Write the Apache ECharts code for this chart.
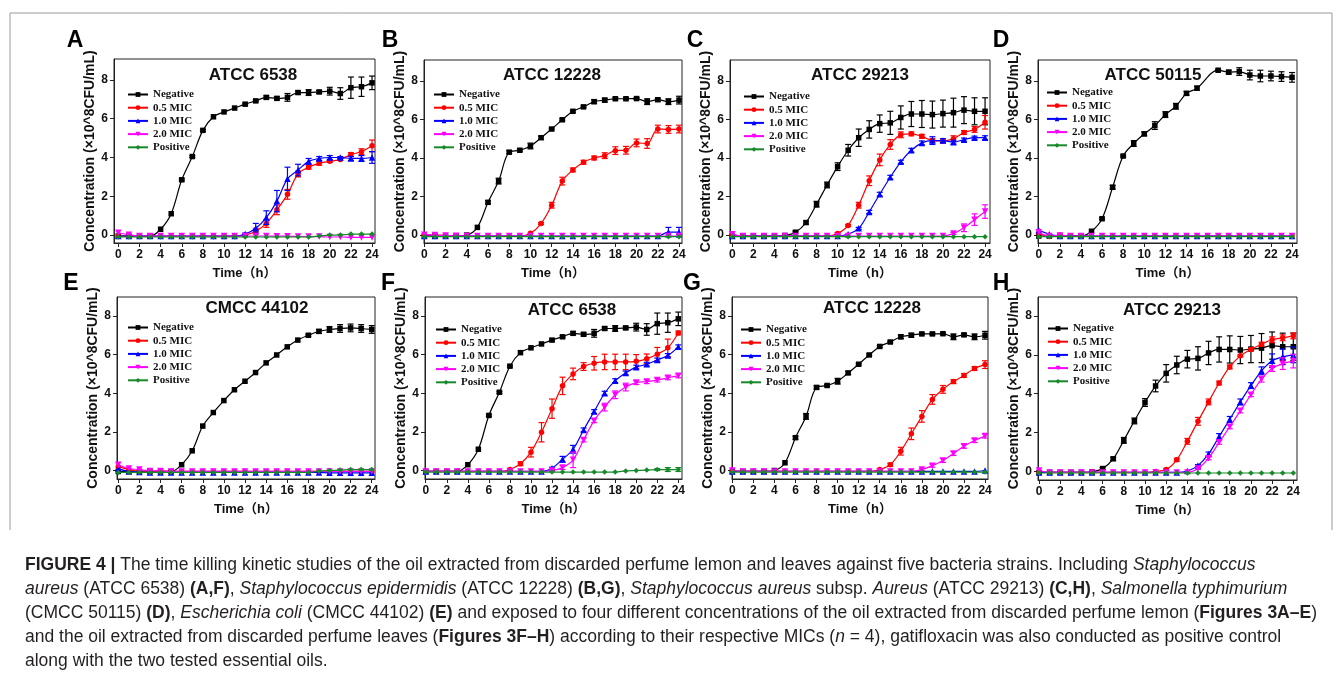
<!DOCTYPE html>
<html>
<head>
<meta charset="utf-8">
<title>Figure 4 - time killing kinetics</title>
<script src="https://cdn.jsdelivr.net/npm/echarts@6/dist/echarts.min.js"></script>
<style>
  html, body { margin: 0; padding: 0; background: #fff; }
  #chart { width: 1342px; height: 681px; }
</style>
</head>
<body>
<div id="chart"></div>
<script>
// ---- data (x10^8 CFU/mL) ----
const hours = [0,1,2,3,4,5,6,7,8,9,10,11,12,13,14,15,16,17,18,19,20,21,22,23,24];
const seriesNames = ['Negative', '0.5 MIC', '1.0 MIC', '2.0 MIC', 'Positive'];
const xTicks = [0,2,4,6,8,10,12,14,16,18,20,22,24];
const yTicks = [0,2,4,6,8];

// A - ATCC 6538 (lemon oil)
const negA = [-0.05,-0.05,-0.05,-0.05,0.3,1.1,2.85,4.05,5.4,6.1,6.35,6.55,6.75,6.92,7.1,7.05,7.1,7.35,7.35,7.38,7.42,7.3,7.6,7.65,7.85];
const negAErr = [0,0,0,0,0,0,0.05,0.05,0.05,0,0,0,0.05,0.05,0.08,0.08,0.2,0.08,0.15,0.08,0.2,0.3,0.55,0.5,0.35];
const m05A = [-0.05,-0.05,-0.05,-0.05,-0.05,-0.05,-0.05,-0.05,-0.05,-0.05,-0.05,-0.05,0,0.2,0.6,1.3,2.1,3.15,3.5,3.7,3.8,3.9,4.15,4.3,4.6];
const m05AErr = [0,0,0,0,0,0,0,0,0,0,0,0,0,0.15,0.2,0.25,0.25,0.15,0.1,0.1,0.05,0.05,0.1,0.15,0.3];
const m10A = [-0.05,-0.05,-0.05,-0.05,-0.05,-0.05,-0.05,-0.05,-0.05,-0.05,-0.05,-0.05,0.05,0.35,0.9,1.75,2.9,3.35,3.8,3.95,4.0,4.0,3.95,3.95,4.0];
const m10AErr = [0,0,0,0,0,0,0,0,0,0,0,0,0.05,0.25,0.35,0.55,0.6,0.3,0.15,0.1,0.1,0.05,0.1,0.15,0.3];
const m20A = [0.12,0.02,-0.05,-0.05,-0.05,-0.05,-0.05,-0.05,-0.05,-0.05,-0.05,-0.05,-0.05,-0.05,-0.05,-0.06,-0.06,-0.07,-0.08,-0.08,-0.1,-0.1,-0.12,-0.12,-0.12];
const posA = [-0.1,-0.1,-0.1,-0.1,-0.1,-0.1,-0.1,-0.1,-0.1,-0.1,-0.1,-0.1,-0.1,-0.1,-0.1,-0.1,-0.1,-0.1,-0.1,-0.05,0,0,0.05,0.05,0.05];

// B - ATCC 12228 (lemon oil)
const negB = [-0.05,-0.05,-0.05,-0.05,0,0.4,1.7,2.8,4.3,4.4,4.62,5.05,5.5,5.98,6.42,6.65,6.92,7.0,7.07,7.07,7.08,6.92,7.02,6.92,7.0];
const negBErr = [0,0,0,0,0,0,0.08,0.15,0.08,0.05,0.15,0.08,0.05,0.05,0.05,0.05,0.1,0.1,0.05,0.05,0.05,0.15,0.08,0.15,0.2];
const m05B = [0,0,-0.02,-0.05,-0.05,-0.05,-0.05,-0.05,-0.05,-0.05,0.1,0.6,1.55,2.8,3.38,3.78,4.0,4.12,4.38,4.4,4.78,4.75,5.5,5.48,5.5];
const m05BErr = [0,0,0,0,0,0,0,0,0,0,0,0.05,0.15,0.2,0.1,0.1,0.1,0.15,0.2,0.2,0.2,0.25,0.2,0.2,0.2];
const m10B = [-0.05,-0.05,-0.05,-0.05,-0.05,-0.05,-0.05,-0.05,-0.05,-0.05,-0.05,-0.05,-0.05,-0.05,-0.05,-0.05,-0.05,-0.05,-0.05,-0.05,-0.05,-0.05,-0.05,0.15,0.15];
const m10BErr = [0,0,0,0,0,0,0,0,0,0,0,0,0,0,0,0,0,0,0,0,0,0,0,0.25,0.25];
const m20B = [0.02,0,-0.02,-0.04,-0.05,-0.05,-0.05,-0.05,-0.05,-0.05,-0.05,-0.05,-0.05,-0.05,-0.05,-0.05,-0.05,-0.05,-0.05,-0.05,-0.05,-0.05,-0.05,-0.05,-0.05];
const posB = [-0.08,-0.08,-0.08,-0.08,-0.08,-0.08,-0.08,-0.08,-0.08,-0.08,-0.08,-0.08,-0.08,-0.08,-0.08,-0.08,-0.08,-0.08,-0.08,-0.08,-0.08,-0.08,-0.08,-0.08,-0.08];

// C - ATCC 29213 (lemon oil)
const negC = [-0.05,-0.05,-0.05,-0.05,-0.05,-0.02,0.15,0.65,1.6,2.6,3.55,4.4,5.05,5.48,5.78,5.82,6.1,6.28,6.28,6.25,6.3,6.35,6.48,6.42,6.42];
const negCErr = [0,0,0,0,0,0,0.05,0.08,0.15,0.15,0.2,0.3,0.45,0.45,0.45,0.6,0.6,0.65,0.7,0.7,0.7,0.75,0.7,0.7,0.7];
const m05C = [-0.05,-0.05,-0.05,-0.05,-0.05,-0.05,-0.05,-0.05,-0.05,-0.05,0.08,0.5,1.55,2.82,3.9,4.7,5.2,5.25,5.12,4.9,4.88,5.0,5.32,5.48,5.85];
const m05CErr = [0,0,0,0,0,0,0,0,0,0,0.05,0.05,0.15,0.25,0.3,0.25,0.15,0.1,0.1,0.1,0.1,0.15,0.1,0.15,0.35];
const m10C = [-0.05,-0.05,-0.05,-0.05,-0.05,-0.05,-0.05,-0.05,-0.05,-0.05,-0.05,0.05,0.35,1.2,2.12,3.0,3.8,4.4,4.78,4.9,4.9,4.82,4.95,5.05,5.05];
const m10CErr = [0,0,0,0,0,0,0,0,0,0,0,0,0.05,0.08,0.1,0.1,0.08,0.1,0.1,0.2,0.1,0.1,0.08,0.08,0.1];
const m20C = [0.05,-0.05,-0.05,-0.05,-0.05,-0.05,-0.05,-0.05,-0.05,-0.05,-0.05,-0.05,-0.05,-0.05,-0.05,-0.05,-0.05,-0.05,-0.05,-0.05,-0.05,0.08,0.38,0.8,1.22];
const m20CErr = [0,0,0,0,0,0,0,0,0,0,0,0,0,0,0,0,0,0,0,0,0,0.05,0.2,0.3,0.35];
const posC = [-0.08,-0.08,-0.08,-0.08,-0.08,-0.08,-0.08,-0.08,-0.08,-0.08,-0.08,-0.08,-0.08,-0.08,-0.08,-0.08,-0.08,-0.08,-0.08,-0.08,-0.08,-0.08,-0.08,-0.08,-0.08];

// D - ATCC 50115 (lemon oil), no point at 16 h
const negD = [-0.05,-0.05,-0.05,-0.05,-0.05,0.2,0.85,2.48,4.1,4.75,5.25,5.68,6.25,6.68,7.35,7.62,null,8.55,8.45,8.48,8.3,8.25,8.25,8.22,8.18];
const negDErr = [0,0,0,0,0,0,0.05,0.1,0.05,0.15,0.1,0.2,0.15,0.15,0.1,0.1,0,0.05,0.1,0.2,0.25,0.3,0.25,0.25,0.25];
const m05D = [0.1,-0.05,0,-0.05,-0.05,-0.05,-0.05,-0.05,-0.05,-0.05,-0.05,-0.05,-0.05,-0.05,-0.05,-0.05,-0.05,-0.05,-0.05,-0.05,-0.05,-0.05,-0.05,-0.05,-0.05];
const m10D = [0.25,0.05,-0.05,-0.05,-0.05,-0.05,-0.05,-0.05,-0.05,-0.05,-0.05,-0.05,-0.05,-0.05,-0.05,-0.05,-0.05,-0.05,-0.05,-0.05,-0.05,-0.05,-0.05,-0.05,-0.05];
const m20D = [0.15,-0.05,-0.02,-0.05,-0.05,-0.05,-0.05,-0.05,-0.05,-0.05,-0.05,-0.05,-0.05,-0.05,-0.05,-0.05,-0.05,-0.05,-0.05,-0.05,-0.05,-0.05,-0.05,-0.05,-0.05];
const posD = [-0.08,-0.08,-0.08,-0.08,-0.08,-0.08,-0.08,-0.08,-0.08,-0.08,-0.08,-0.08,-0.08,-0.08,-0.08,-0.08,-0.08,-0.08,-0.08,-0.08,-0.08,-0.08,-0.08,-0.08,-0.08];

// E - CMCC 44102 (lemon oil)
const negE = [-0.05,-0.05,-0.05,-0.05,-0.05,-0.05,0.3,1.02,2.3,3.0,3.62,4.18,4.62,5.07,5.57,5.98,6.4,6.75,7.0,7.2,7.3,7.35,7.38,7.35,7.3];
const negEErr = [0,0,0,0,0,0,0,0,0,0,0,0,0,0,0,0,0,0,0.05,0.1,0.15,0.2,0.2,0.2,0.2];
const m05E = [0.2,0.05,-0.05,-0.05,-0.05,-0.05,-0.05,-0.05,-0.05,-0.05,-0.05,-0.05,-0.05,-0.05,-0.05,-0.05,-0.05,-0.05,-0.05,-0.05,-0.05,-0.05,-0.05,-0.05,-0.05];
const m10E = [0.1,-0.05,-0.08,-0.1,-0.1,-0.1,-0.1,-0.1,-0.1,-0.1,-0.1,-0.1,-0.1,-0.1,-0.1,-0.1,-0.1,-0.1,-0.1,-0.1,-0.12,-0.12,-0.12,-0.12,-0.12];
const m20E = [0.3,0.1,0.05,-0.02,-0.02,-0.05,-0.05,-0.05,-0.05,-0.05,-0.05,-0.05,-0.05,-0.05,-0.05,-0.05,-0.05,-0.05,-0.05,-0.05,-0.05,-0.05,-0.05,-0.05,-0.05];
const posE = [-0.1,-0.1,-0.1,-0.1,-0.1,-0.1,-0.1,-0.1,-0.1,-0.1,-0.1,-0.1,-0.1,-0.1,-0.1,-0.1,-0.1,-0.1,-0.1,-0.03,0,0.02,0.05,0.05,0.05];

// F - ATCC 6538 (leaf oil); same negative control as A
const negF = negA;
const negFErr = negAErr;
const m05F = [-0.05,-0.05,-0.05,-0.05,-0.05,-0.05,-0.05,-0.05,0.05,0.35,0.95,1.98,3.2,4.38,5.0,5.38,5.55,5.62,5.62,5.62,5.65,5.78,6.02,6.35,7.12];
const m05FErr = [0,0,0,0,0,0,0,0,0.05,0.1,0.25,0.5,0.5,0.45,0.3,0.2,0.35,0.4,0.4,0.4,0.35,0.25,0.35,0.45,0.1];
const m10F = [-0.05,-0.05,-0.05,-0.05,-0.05,-0.05,-0.05,-0.05,-0.05,-0.05,-0.05,-0.05,0.12,0.58,1.1,2.1,3.05,4.0,4.65,5.05,5.35,5.5,5.72,5.95,6.4];
const m10FErr = [0,0,0,0,0,0,0,0,0,0,0,0,0.05,0.15,0.2,0.1,0.1,0.1,0.1,0.1,0.1,0.1,0.1,0.1,0.1];
const m20F = [-0.05,-0.05,-0.05,-0.05,-0.05,-0.05,-0.05,-0.05,-0.05,-0.05,-0.05,-0.05,0,0.15,0.55,1.58,2.58,3.28,3.92,4.32,4.55,4.6,4.68,4.8,4.9];
const m20FErr = [0,0,0,0,0,0,0,0,0,0,0,0,0.05,0.1,0.4,0.1,0.1,0.2,0.2,0.2,0.1,0.1,0.1,0.1,0.1];
const posF = [-0.08,-0.08,-0.08,-0.08,-0.08,-0.08,-0.08,-0.08,-0.08,-0.08,-0.08,-0.08,-0.08,-0.08,-0.08,-0.08,-0.08,-0.08,-0.08,-0.02,0,0.02,0.05,0.05,0.05];
const posFErr = [0,0,0,0,0,0,0,0,0,0,0,0,0,0,0,0,0,0,0,0,0,0,0.05,0.1,0.1];

// G - ATCC 12228 (leaf oil); same negative control as B
const negG = negB;
const negGErr = negBErr;
const m05G = [-0.05,-0.05,-0.05,-0.05,-0.05,-0.05,-0.05,-0.05,-0.05,-0.05,-0.05,-0.05,-0.05,-0.05,0.05,0.3,1.0,1.9,2.8,3.68,4.2,4.6,4.92,5.28,5.48];
const m05GErr = [0,0,0,0,0,0,0,0,0,0,0,0,0,0,0.05,0.08,0.2,0.3,0.3,0.25,0.2,0.1,0.1,0.1,0.2];
const m10G = [-0.05,-0.05,-0.05,-0.05,-0.05,-0.05,-0.05,-0.05,-0.05,-0.05,-0.05,-0.05,-0.05,-0.05,-0.05,-0.05,-0.05,-0.05,-0.05,-0.05,-0.05,-0.05,-0.05,-0.05,0];
const m20G = [0,-0.05,-0.05,-0.05,-0.05,-0.05,-0.05,-0.05,-0.05,-0.05,-0.05,-0.05,-0.05,-0.05,-0.05,-0.05,-0.05,-0.05,0.05,0.25,0.52,0.88,1.25,1.55,1.78];
const m20GErr = [0,0,0,0,0,0,0,0,0,0,0,0,0,0,0,0,0,0,0.05,0.08,0.1,0.1,0.1,0.1,0.1];
const posG = [-0.08,-0.08,-0.08,-0.08,-0.08,-0.08,-0.08,-0.08,-0.08,-0.08,-0.08,-0.08,-0.08,-0.08,-0.08,-0.08,-0.08,-0.08,-0.08,-0.08,-0.08,-0.08,-0.08,-0.08,-0.08];

// H - ATCC 29213 (leaf oil); same negative control as C
const negH = negC;
const negHErr = negCErr;
const m05H = [-0.05,-0.05,-0.05,-0.05,-0.05,-0.05,-0.05,-0.05,-0.05,-0.05,-0.05,0,0.1,0.6,1.55,2.58,3.58,4.55,5.38,5.95,6.28,6.55,6.78,6.88,6.98];
const m05HErr = [0,0,0,0,0,0,0,0,0,0,0,0,0.05,0.08,0.15,0.2,0.15,0.1,0.1,0.05,0.05,0.1,0.15,0.15,0.15];
const m10H = [-0.05,-0.05,-0.05,-0.05,-0.05,-0.05,-0.05,-0.05,-0.05,-0.05,-0.05,-0.05,-0.05,-0.05,0.02,0.3,0.9,1.8,2.68,3.58,4.42,5.18,5.7,5.9,6.0];
const m10HErr = [0,0,0,0,0,0,0,0,0,0,0,0,0,0,0,0.05,0.1,0.15,0.15,0.15,0.15,0.2,0.35,0.4,0.4];
const m20H = [0.05,-0.05,-0.05,-0.05,-0.05,-0.05,-0.05,-0.05,-0.05,-0.05,-0.05,-0.05,-0.05,-0.05,-0.05,0.15,0.68,1.5,2.3,3.12,3.95,4.75,5.3,5.55,5.68];
const m20HErr = [0,0,0,0,0,0,0,0,0,0,0,0,0,0,0,0.05,0.08,0.1,0.1,0.1,0.1,0.15,0.15,0.3,0.35];
const posH = [-0.08,-0.08,-0.08,-0.08,-0.08,-0.08,-0.08,-0.08,-0.08,-0.08,-0.08,-0.08,-0.08,-0.08,-0.08,-0.08,-0.08,-0.08,-0.08,-0.08,-0.08,-0.08,-0.08,-0.08,-0.08];

// ---- styling ----
const colors = ['#000000', '#ff0000', '#0000ff', '#ff00ff', '#168a2a'];
const symbols = ['rect', 'circle', 'triangle', 'triangle', 'diamond'];
const rotates = [0, 0, 0, 180, 0];
const sans = '"Liberation Sans", Arial, "Noto Sans CJK SC", sans-serif';
const serif = '"Liberation Serif", "Times New Roman", serif';

// layout per panel: grid box [left, top, width, height], x range, y range
const panels = [
  { letter: 'A', title: 'ATCC 6538',  box: [114, 59, 261, 184],  xr: [-0.41, 24.28], yr: [-0.41, 9.08], lg: [127, 89],  lt: [75, 41],   tt: [253, 75],
    lines: [[negA, negAErr], [m05A, m05AErr], [m10A, m10AErr], [m20A, null], [posA, null]] },
  { letter: 'B', title: 'ATCC 12228', box: [424, 60, 258, 183],  xr: [-0.03, 24.28], yr: [-0.41, 9.08], lg: [433, 89],  lt: [390, 41],  tt: [552, 75],
    lines: [[negB, negBErr], [m05B, m05BErr], [m10B, m10BErr], [m20B, null], [posB, null]] },
  { letter: 'C', title: 'ATCC 29213', box: [730, 60, 260, 183],  xr: [-0.22, 24.47], yr: [-0.41, 9.08], lg: [743, 91],  lt: [695, 41],  tt: [860, 75],
    lines: [[negC, negCErr], [m05C, m05CErr], [m10C, m10CErr], [m20C, m20CErr], [posC, null]] },
  { letter: 'D', title: 'ATCC 50115', box: [1038, 60, 259, 183], xr: [-0.07, 24.47], yr: [-0.41, 9.08], lg: [1046, 87], lt: [1001, 41], tt: [1153, 75],
    lines: [[negD, negDErr], [m05D, null], [m10D, null], [m20D, null], [posD, null]] },
  { letter: 'E', title: 'CMCC 44102', box: [117, 297, 258, 182], xr: [-0.12, 24.31], yr: [-0.44, 8.98], lg: [127, 322], lt: [71, 284],  tt: [257, 308],
    lines: [[negE, negEErr], [m05E, null], [m10E, null], [m20E, null], [posE, null]] },
  { letter: 'F', title: 'ATCC 6538',  box: [425, 297, 257, 182], xr: [-0.07, 24.35], yr: [-0.44, 8.98], lg: [435, 324], lt: [388, 284], tt: [572, 310],
    lines: [[negF, negFErr], [m05F, m05FErr], [m10F, m10FErr], [m20F, m20FErr], [posF, posFErr]] },
  { letter: 'G', title: 'ATCC 12228', box: [732, 297, 256, 182], xr: [-0.03, 24.28], yr: [-0.44, 8.98], lg: [740, 324], lt: [692, 284], tt: [872, 308],
    lines: [[negG, negGErr], [m05G, m05GErr], [m10G, null], [m20G, m20GErr], [posG, null]] },
  { letter: 'H', title: 'ATCC 29213', box: [1038, 297, 259, 183], xr: [-0.1, 24.35], yr: [-0.44, 8.98], lg: [1047, 323], lt: [1001, 284], tt: [1172, 310],
    lines: [[negH, negHErr], [m05H, m05HErr], [m10H, m10HErr], [m20H, m20HErr], [posH, null]] }
];

// error bars drawn as a custom series
function renderErr(params, api) {
  const y = api.value(1);
  const e = api.value(2);
  if (!(e > 0) || isNaN(y)) return null;
  const x = api.value(0);
  const hi = api.coord([x, y + e]);
  const lo = api.coord([x, y - e]);
  const c = api.visual('color');
  const w = 3;
  const st = { stroke: c, lineWidth: 1.2 };
  return {
    type: 'group',
    children: [
      { type: 'line', shape: { x1: hi[0], y1: hi[1], x2: lo[0], y2: lo[1] }, style: st },
      { type: 'line', shape: { x1: hi[0] - w, y1: hi[1], x2: hi[0] + w, y2: hi[1] }, style: st },
      { type: 'line', shape: { x1: lo[0] - w, y1: lo[1], x2: lo[0] + w, y2: lo[1] }, style: st }
    ]
  };
}

const grids = [], xAxes = [], yAxes = [], legends = [], series = [], graphics = [];

panels.forEach((p, i) => {
  grids.push({
    left: p.box[0], top: p.box[1], width: p.box[2], height: p.box[3],
    show: true, borderColor: '#222', borderWidth: 1, backgroundColor: 'transparent'
  });
  xAxes.push({
    type: 'value', gridIndex: i, min: p.xr[0], max: p.xr[1],
    name: 'Time（h）', nameLocation: 'middle', nameGap: 24,
    nameTextStyle: { fontFamily: sans, fontWeight: 'bold', fontSize: 13, color: '#111' },
    axisLine: { onZero: false, lineStyle: { color: '#222', width: 1 } },
    axisTick: { length: 4, lineStyle: { color: '#222' }, customValues: xTicks },
    axisLabel: { fontFamily: sans, fontWeight: 'bold', fontSize: 12, color: '#111', margin: 6, customValues: xTicks },
    splitLine: { show: false }
  });
  yAxes.push({
    type: 'value', gridIndex: i, min: p.yr[0], max: p.yr[1],
    name: 'Concentration (×10^8CFU/mL)', nameLocation: 'middle', nameGap: 12,
    nameTextStyle: { fontFamily: sans, fontWeight: 'bold', fontSize: 14, color: '#111' },
    axisLine: { onZero: false, lineStyle: { color: '#222', width: 1 } },
    axisTick: { length: 4, lineStyle: { color: '#222' }, customValues: yTicks },
    axisLabel: { fontFamily: sans, fontWeight: 'bold', fontSize: 12, color: '#111', margin: 6, customValues: yTicks },
    splitLine: { show: false }
  });
  legends.push({
    left: p.lg[0], top: p.lg[1], orient: 'vertical', padding: 0,
    itemWidth: 20, itemHeight: 6, itemGap: 2.2, selectedMode: false,
    data: seriesNames,
    textStyle: { fontFamily: serif, fontWeight: 'bold', fontSize: 11, lineHeight: 11, color: '#111' }
  });

  p.lines.forEach((pair, k) => {
    series.push({
      type: 'line', name: seriesNames[k], xAxisIndex: i, yAxisIndex: i,
      data: hours.map((h, j) => [h, pair[0][j]]),
      smooth: 0.35, connectNulls: true, clip: false,
      symbol: symbols[k], symbolRotate: rotates[k], symbolSize: k === 2 || k === 3 ? 6.5 : 5.5,
      itemStyle: { color: colors[k] },
      lineStyle: { color: colors[k], width: 1.2 },
      z: 3 + k
    });
  });
  p.lines.forEach((pair, k) => {
    if (!pair[1]) return;
    series.push({
      type: 'custom', xAxisIndex: i, yAxisIndex: i,
      data: hours.map((h, j) => [h, pair[0][j], pair[1][j]]),
      renderItem: renderErr, itemStyle: { color: colors[k] },
      encode: { x: 0, y: 1 }, silent: true, z: 3 + k
    });
  });

  graphics.push({
    type: 'text', x: p.lt[0], y: p.lt[1],
    style: { text: p.letter, font: 'bold 23px ' + sans, fill: '#000', textAlign: 'center', textVerticalAlign: 'middle' }
  });
  graphics.push({
    type: 'text', x: p.tt[0], y: p.tt[1],
    style: { text: p.title, font: 'bold 17px ' + sans, fill: '#111', textAlign: 'center', textVerticalAlign: 'middle' }
  });
});

// figure frame
graphics.push({
  type: 'polyline', shape: { points: [[10, 530], [10, 13], [1332, 13], [1332, 530]] },
  style: { stroke: '#9a9a9a', lineWidth: 1, fill: null }
});

// caption
const capSize = 17.5;
const capFont = { fontFamily: sans, fontSize: capSize, fill: '#231f20' };
const capRich = {
  b: { fontFamily: sans, fontSize: capSize, fontWeight: 'bold', fill: '#231f20' },
  i: { fontFamily: sans, fontSize: capSize, fontStyle: 'italic', fill: '#231f20' }
};
const captionLines = [
  '{b|FIGURE 4 |} The time killing kinetic studies of the oil extracted from discarded perfume lemon and leaves against five bacteria strains. Including {i|Staphylococcus}',
  '{i|aureus} (ATCC 6538) {b|(A,F)}, {i|Staphylococcus epidermidis} (ATCC 12228) {b|(B,G)}, {i|Staphylococcus aureus} subsp. {i|Aureus} (ATCC 29213) {b|(C,H)}, {i|Salmonella typhimurium}',
  '(CMCC 50115) {b|(D)}, {i|Escherichia coli} (CMCC 44102) {b|(E)} and exposed to four different concentrations of the oil extracted from discarded perfume lemon ({b|Figures 3A–E})',
  'and the oil extracted from discarded perfume leaves ({b|Figures 3F–H}) according to their respective MICs ({i|n} = 4), gatifloxacin was also conducted as positive control',
  'along with the two tested essential oils.'
];
captionLines.forEach((t, n) => {
  graphics.push({
    type: 'text', x: 25, y: 565 + n * 24,
    style: Object.assign({ text: t, rich: capRich, textVerticalAlign: 'middle' }, capFont)
  });
});

const chart = echarts.init(document.getElementById('chart'));
chart.setOption({
  animation: false,
  backgroundColor: '#ffffff',
  grid: grids,
  xAxis: xAxes,
  yAxis: yAxes,
  legend: legends,
  series: series,
  graphic: graphics
});
</script>
</body>
</html>
